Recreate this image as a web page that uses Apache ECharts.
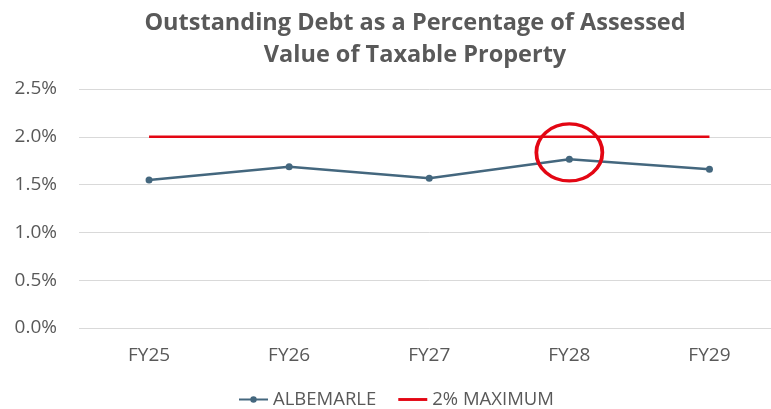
<!DOCTYPE html>
<html><head><meta charset="utf-8">
<script src="https://cdn.jsdelivr.net/npm/echarts@6/dist/echarts.min.js"></script>
<style>html,body{margin:0;padding:0;background:#fff;overflow:hidden;width:771px;height:409px}#c{width:800px;height:409px}</style>
</head><body><div id="c"></div>
<script>
var categories = ['FY25','FY26','FY27','FY28','FY29'];
var albemarle = [1.548, 1.687, 1.566, 1.765, 1.660];
var maximum = [2.0, 2.0, 2.0, 2.0, 2.0];
var yTicks = [0, 0.5, 1.0, 1.5, 2.0, 2.5];
var highlightCategory = 'FY28';
var highlightValue = 1.836;

var chart = echarts.init(document.getElementById('c'));
var font = '"Open Sans", "Noto Sans", sans-serif';
chart.setOption({
  animation: false,
  title: {
    text: 'Outstanding Debt as a Percentage of Assessed\nValue of Taxable Property',
    left: 410, textAlign: 'center', top: 2,
    textStyle: { fontFamily: font, fontWeight: 'bold', fontSize: 23.5, color: '#595959', lineHeight: 32 }
  },
  legend: {
    top: 385, left: 233, itemGap: 22, itemWidth: 29, itemHeight: 8,
    textStyle: { fontFamily: font, fontSize: 18.5, color: '#595959' },
    data: [{ name: 'ALBEMARLE' }, { name: '2% MAXIMUM', icon: 'path://M0,0 L30,0 L30,3 L0,3 Z' }]
  },
  grid: { left: 79, width: 700.5, top: 89, bottom: 81 },
  xAxis: {
    type: 'category', data: categories, boundaryGap: true,
    axisLine: { show: false }, axisTick: { show: false },
    axisLabel: { fontFamily: font, fontSize: 19, color: '#595959', margin: 18 }
  },
  yAxis: {
    type: 'value', min: yTicks[0], max: yTicks[yTicks.length-1], interval: 0.5,
    axisLine: { show: false }, axisTick: { show: false },
    splitLine: { lineStyle: { color: '#d9d9d9', width: 1 } },
    axisLabel: { fontFamily: font, fontSize: 19, color: '#595959', margin: 22,
      formatter: function(v){ return v.toFixed(1) + '%'; } }
  },
  series: [
    { name: 'ALBEMARLE', type: 'line', data: albemarle, symbol: 'circle', symbolSize: 7,
      lineStyle: { color: '#44677e', width: 2.5 }, itemStyle: { color: '#44677e' }, z: 3 },
    { name: '2% MAXIMUM', type: 'line', data: maximum, symbol: 'none',
      lineStyle: { color: '#e30613', width: 2.5 }, itemStyle: { color: '#e30613' }, z: 2,
      markPoint: { symbol: 'circle', symbolSize: [66, 57], silent: true,
        label: { show: false },
        itemStyle: { color: 'rgba(0,0,0,0)', borderColor: '#e30613', borderWidth: 3.5 },
        data: [{ coord: [highlightCategory, highlightValue] }] } }
  ]
});
</script></body></html>
